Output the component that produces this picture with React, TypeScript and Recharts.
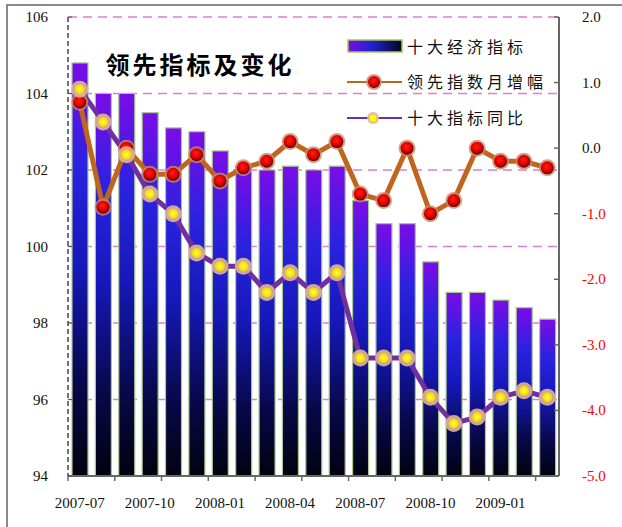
import { Bar, CartesianGrid, ComposedChart, Line, XAxis, YAxis } from "recharts";

const months = [
  "2007-07", "2007-08", "2007-09", "2007-10", "2007-11", "2007-12",
  "2008-01", "2008-02", "2008-03", "2008-04", "2008-05", "2008-06",
  "2008-07", "2008-08", "2008-09", "2008-10", "2008-11", "2008-12",
  "2009-01", "2009-02", "2009-03",
];
const tenIndicators = [104.8, 104.0, 104.0, 103.5, 103.1, 103.0, 102.5, 102.1, 102.0, 102.1, 102.0, 102.1, 101.2, 100.6, 100.6, 99.6, 98.8, 98.8, 98.6, 98.4, 98.1];
const leadMonthly = [0.7, -0.9, 0.0, -0.4, -0.4, -0.1, -0.5, -0.3, -0.2, 0.1, -0.1, 0.1, -0.7, -0.8, 0.0, -1.0, -0.8, 0.0, -0.2, -0.2, -0.3];
const tenYoY = [0.9, 0.4, -0.1, -0.7, -1.0, -1.6, -1.8, -1.8, -2.2, -1.9, -2.2, -1.9, -3.2, -3.2, -3.2, -3.8, -4.2, -4.1, -3.8, -3.7, -3.8];
const leftTicks = [94, 96, 98, 100, 102, 104, 106];
const rightTicks = [-5, -4, -3, -2, -1, 0, 1, 2];

const W = 622;
const H = 527;
const PLOT_LEFT = 68;
const PLOT_RIGHT = 559;
const PLOT_TOP = 17;
const PLOT_BOTTOM = 476;
const SERIF = "'Liberation Serif', 'DejaVu Serif', serif";
const CJK = "'Noto Sans CJK SC', sans-serif";

const data = months.map((m, i) => ({
  month: m,
  ten: tenIndicators[i],
  lead: leadMonthly[i],
  yoy: tenYoY[i],
}));

const band = (PLOT_RIGHT - PLOT_LEFT) / months.length;

function XTick(props: any) {
  const { x, payload, index } = props;
  const left = x - band / 2;
  return (
    <g>
      {index % 2 === 0 && (
        <line x1={left} x2={left} y1={PLOT_BOTTOM} y2={PLOT_BOTTOM + 5} stroke="#666" strokeWidth={1.5} />
      )}
      {index % 3 === 0 && (
        <text x={x} y={PLOT_BOTTOM + 32} textAnchor="middle" fontFamily={SERIF} fontSize={15} fill="#111">
          {payload.value}
        </text>
      )}
    </g>
  );
}

function LeftTick(props: any) {
  const { y, payload } = props;
  return (
    <g>
      <line x1={PLOT_LEFT} x2={PLOT_LEFT + 4} y1={y} y2={y} stroke="#555" strokeWidth={1} />
      <text x={PLOT_LEFT - 20} y={y + 5} textAnchor="end" fontFamily={SERIF} fontSize={15} fill="#111">
        {payload.value}
      </text>
    </g>
  );
}

function RightTick(props: any) {
  const { y, payload } = props;
  const v = payload.value as number;
  return (
    <g>
      <line x1={PLOT_RIGHT - 5} x2={PLOT_RIGHT} y1={y} y2={y} stroke="#666" strokeWidth={1.5} />
      <text x={PLOT_RIGHT + 23} y={y + 5} textAnchor="start" fontFamily={SERIF} fontSize={15} fill={v < 0 ? "#FF0000" : "#111"}>
        {v.toFixed(1)}
      </text>
    </g>
  );
}

function RedDot(props: any) {
  const { cx, cy, index } = props;
  if (cx == null || cy == null) return <g key={`r${index}`} />;
  return (
    <g key={`r${index}`}>
      <circle cx={cx} cy={cy} r={8.5} fill="#C98A6A" opacity={0.8} />
      <circle cx={cx} cy={cy} r={6.5} fill="url(#redBall)" />
    </g>
  );
}

function YellowDot(props: any) {
  const { cx, cy, index } = props;
  if (cx == null || cy == null) return <g key={`y${index}`} />;
  return (
    <g key={`y${index}`}>
      <circle cx={cx} cy={cy} r={8.5} fill="#E2B594" opacity={0.9} />
      <circle cx={cx} cy={cy} r={5} fill="url(#yellowBall)" />
    </g>
  );
}

function Legend() {
  const tx = 407;
  const textStyle = { fontFamily: CJK, fontSize: 16, letterSpacing: 4, fill: "#111" } as const;
  return (
    <g>
      <rect x={348} y={40} width={54} height={12} fill="url(#legendBar)" stroke="#9ACD5A" strokeWidth={1.5} />
      <text x={tx} y={53} {...textStyle}>十大经济指标</text>
      <line x1={347} x2={402} y1={82} y2={82} stroke="#C0651E" strokeWidth={2} />
      <circle cx={374} cy={82} r={8} fill="#C98A6A" opacity={0.8} />
      <circle cx={374} cy={82} r={6} fill="url(#redBall)" />
      <text x={tx} y={88} {...textStyle}>领先指数月增幅</text>
      <line x1={347} x2={402} y1={118} y2={118} stroke="#7030A0" strokeWidth={2} />
      <circle cx={373} cy={118} r={6} fill="#E2B594" opacity={0.9} />
      <circle cx={373} cy={118} r={3.5} fill="#FFFF00" />
      <text x={tx} y={124} {...textStyle}>十大指标同比</text>
    </g>
  );
}

export default function App() {
  return (
    <div style={{ position: "fixed", left: 0, top: 0, width: W, height: H, background: "#fff", overflow: "hidden" }}>
      <div style={{ position: "absolute", left: 6, top: 4, width: 640, height: 560, border: "2px solid #8a8a8a" }} />
      <div style={{ position: "absolute", left: 0, top: 0 }}>
        <ComposedChart width={W} height={H} data={data} margin={{ top: PLOT_TOP, right: 0, left: 0, bottom: 0 }}>
          <defs>
            <linearGradient id="barFill" x1="0" y1="0" x2="0" y2="1">
              <stop offset="0%" stopColor="#7A0CE8" />
              <stop offset="25%" stopColor="#2A22E0" />
              <stop offset="50%" stopColor="#1518B8" />
              <stop offset="78%" stopColor="#08084A" />
              <stop offset="100%" stopColor="#020210" />
            </linearGradient>
            <linearGradient id="legendBar" x1="0" y1="0" x2="1" y2="0">
              <stop offset="0%" stopColor="#7A0CE8" />
              <stop offset="45%" stopColor="#2020D0" />
              <stop offset="100%" stopColor="#050520" />
            </linearGradient>
            <radialGradient id="redBall" cx="45%" cy="40%" r="60%">
              <stop offset="0%" stopColor="#FF2010" />
              <stop offset="60%" stopColor="#E00000" />
              <stop offset="100%" stopColor="#600000" />
            </radialGradient>
            <radialGradient id="yellowBall" cx="50%" cy="50%" r="55%">
              <stop offset="0%" stopColor="#FFFF40" />
              <stop offset="100%" stopColor="#F0D000" />
            </radialGradient>
          </defs>
          <CartesianGrid
            yAxisId="left"
            vertical={false}
            stroke="#DD7FD0"
            strokeWidth={1.5}
            strokeDasharray="9 6"
          />
          <XAxis
            dataKey="month"
            interval={0}
            height={H - PLOT_BOTTOM}
            tick={<XTick />}
            tickLine={false}
            axisLine={{ stroke: "#666", strokeWidth: 2 }}
          />
          <YAxis
            yAxisId="left"
            orientation="left"
            width={PLOT_LEFT}
            domain={[94, 106]}
            ticks={leftTicks}
            tick={<LeftTick />}
            tickLine={false}
            axisLine={{ stroke: "#444", strokeWidth: 1.5, strokeDasharray: "5 3" }}
          />
          <YAxis
            yAxisId="right"
            orientation="right"
            width={W - PLOT_RIGHT}
            domain={[-5, 2]}
            ticks={rightTicks}
            tick={<RightTick />}
            tickLine={false}
            axisLine={{ stroke: "#666", strokeWidth: 2 }}
          />
          <Bar
            yAxisId="left"
            dataKey="ten"
            barSize={16}
            fill="url(#barFill)"
            stroke="#A8C890"
            strokeWidth={1.2}
            isAnimationActive={false}
          />
          <Line
            yAxisId="right"
            dataKey="lead"
            stroke="#C0651E"
            strokeWidth={5}
            dot={RedDot}
            activeDot={false}
            isAnimationActive={false}
          />
          <Line
            yAxisId="right"
            dataKey="yoy"
            stroke="#7030A0"
            strokeWidth={5}
            dot={YellowDot}
            activeDot={false}
            isAnimationActive={false}
          />
          <text x={200} y={74} textAnchor="middle" fontFamily={CJK} fontWeight={700} fontSize={24} letterSpacing={3} fill="#000">
            领先指标及变化
          </text>
          <Legend />
        </ComposedChart>
      </div>
    </div>
  );
}
